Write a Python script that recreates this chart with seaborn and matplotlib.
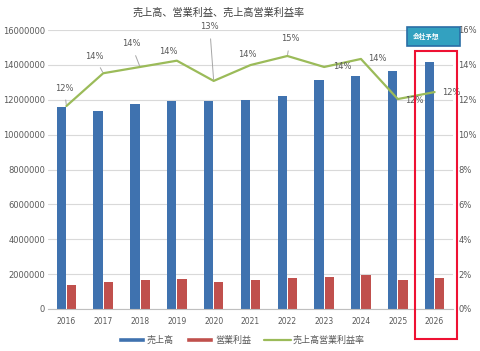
import numpy as np
import pandas as pd
import matplotlib
matplotlib.use("Agg")
import matplotlib.pyplot as plt
import seaborn as sns
from matplotlib.patches import Patch, Rectangle
from matplotlib.lines import Line2D
from matplotlib.ticker import FuncFormatter

# data
years = ["2016", "2017", "2018", "2019", "2020", "2021",
         "2022", "2023", "2024", "2025", "2026"]
sales = [11580000, 11350000, 11750000, 11930000, 11930000, 11980000,
         12200000, 13130000, 13360000, 13650000, 14160000]
op_profit = [1380000, 1550000, 1660000, 1720000, 1550000, 1660000,
             1780000, 1840000, 1950000, 1660000, 1780000]
op_margin = [0.1164, 0.1352, 0.1388, 0.1424, 0.1308, 0.1399,
             0.1451, 0.1388, 0.1434, 0.1204, 0.1244]
margin_labels = ["12%", "14%", "14%", "14%", "13%", "14%",
                 "15%", "14%", "14%", "12%", "12%"]

BLUE = "#3f72af"
RED = "#c0504d"
GREEN = "#9bbb59"
TXT = "#595959"

sns.set_style("white")
plt.rcParams["font.family"] = ["DejaVu Sans", "Noto Sans CJK JP"]

df = pd.DataFrame({
    "year": years * 2,
    "series": ["売上高"] * len(years) + ["営業利益"] * len(years),
    "value": sales + op_profit,
})

fig = plt.figure(figsize=(4.81, 3.51), dpi=100)
ax = fig.add_axes([48 / 481, 1 - 309 / 351, 405 / 481, 279 / 351])

sns.barplot(data=df, x="year", y="value", hue="series",
            palette=[BLUE, RED], width=0.56, gap=0.1, linewidth=0,
            saturation=1, ax=ax, legend=False)
ax.set_xlim(-0.5, len(years) - 0.5)
ax.set_ylim(0, 16000000)
ax.set_yticks(np.arange(0, 16000001, 2000000))
ax.yaxis.set_major_formatter(FuncFormatter(lambda v, p: f"{int(v)}"))
ax.grid(axis="y", color="#d9d9d9", linewidth=0.8)
ax.set_axisbelow(True)
ax.set_xlabel("")
ax.set_ylabel("")
for s in ["top", "right", "left"]:
    ax.spines[s].set_visible(False)
ax.spines["bottom"].set_color("#bfbfbf")
ax.tick_params(axis="both", length=0, colors=TXT)
ax.tick_params(axis="y", labelsize=6, pad=2)
ax.tick_params(axis="x", labelsize=5.5, pad=6)

# margin line on the right axis
ax2 = ax.twinx()
xpos = np.arange(len(years))
sns.lineplot(x=xpos, y=op_margin, color=GREEN, linewidth=1.6, ax=ax2)
ax2.set_ylim(0, 0.16)
ax2.set_yticks(np.arange(0, 0.161, 0.02))
ax2.yaxis.set_major_formatter(FuncFormatter(lambda v, p: f"{v * 100:.0f}%"))
ax2.tick_params(axis="y", length=0, colors=TXT, labelsize=6, pad=4)
for s in ["top", "right", "left", "bottom"]:
    ax2.spines[s].set_visible(False)
ax2.set_xlim(-0.5, len(years) - 0.5)

# label offsets in pixels (label centre minus point)
offsets = [(-2, 18), (-9, 17), (-9, 23), (-9, 9), (-4, 54), (-3, 11),
           (3, 17), (18, 0), (16, 0), (17, -1), (17, 0)]
for i, (lab, off) in enumerate(zip(margin_labels, offsets)):
    leader = abs(off[1]) > 12 and abs(off[0]) < 12
    ax2.annotate(lab, (xpos[i], op_margin[i]), xytext=off,
                 textcoords="offset pixels", ha="center", va="center",
                 fontsize=6, color=TXT,
                 arrowprops=dict(arrowstyle="-", color="#a6a6a6", lw=0.7,
                                 shrinkA=3, shrinkB=1) if leader else None)

fig.text(219 / 481, 1 - 13 / 351, "売上高、営業利益、売上高営業利益率",
         ha="center", va="center", fontsize=7.3, color="#404040")

# forecast highlight
fig.patches.append(Rectangle((415 / 481, 1 - 339 / 351), 42 / 481, 288 / 351,
                             transform=fig.transFigure, fill=False,
                             edgecolor="#ee1133", linewidth=1.5))
fig.patches.append(Rectangle((407 / 481, 1 - 46 / 351), 53 / 481, 19 / 351,
                             transform=fig.transFigure, facecolor="#33a1c0",
                             edgecolor="#2b6ea6", linewidth=1.2))
fig.text(413 / 481, 1 - 36.5 / 351, "会社予想", ha="left", va="center",
         fontsize=4.8, color="white", fontweight="bold")

handles = [Patch(facecolor=BLUE), Patch(facecolor=RED),
           Line2D([0], [0], color=GREEN, linewidth=1.6)]
fig.legend(handles, ["売上高", "営業利益", "売上高営業利益率"],
           loc="center", bbox_to_anchor=(241 / 481, 1 - 340 / 351),
           ncol=3, frameon=False, fontsize=6.5, labelcolor=TXT,
           handlelength=3.0, handleheight=0.5, handletextpad=0.2,
           columnspacing=1.4)

fig.savefig("out.png", dpi=100)
